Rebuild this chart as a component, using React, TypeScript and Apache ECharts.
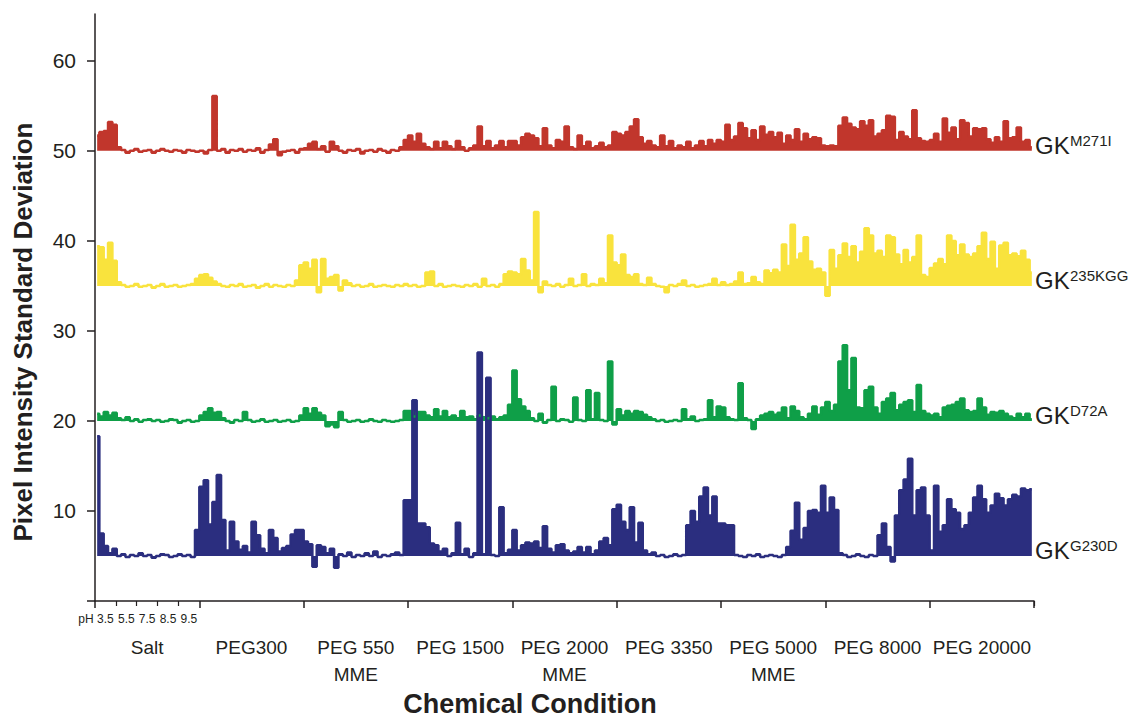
import { useEffect, useRef } from "react";
import * as echarts from "echarts";

// ---------- data ----------
const groupLabels = [
  "Salt",
  "PEG300",
  "PEG 550\nMME",
  "PEG 1500",
  "PEG 2000\nMME",
  "PEG 3350",
  "PEG 5000\nMME",
  "PEG 8000",
  "PEG 20000",
];
const phLabels = ["3.5", "5.5", "7.5", "8.5", "9.5"];
const conditionsPerGroup = 24;
const yTickValues = [0, 10, 20, 30, 40, 50, 60];
const yLabelValues = [10, 20, 30, 40, 50, 60];

const m271i = [
  51.7, 52.1, 52.2, 53.2, 52.9, 50.4, 50.1, 49.8, 50.0, 50.2, 49.9, 50.0, 50.1, 49.8, 50.0, 50.2, 50.0, 49.9, 50.1, 50.0, 49.8, 50.1, 50.0, 49.9,
  50.0, 49.7, 50.1, 56.1, 50.0, 50.2, 49.8, 50.1, 50.0, 50.2, 49.9, 50.1, 50.0, 50.3, 49.8, 50.1, 50.7, 51.3, 49.5, 49.9, 50.0, 50.1, 49.8, 50.2,
  50.3, 50.8, 51.0, 50.2, 50.5, 49.9, 51.0, 50.5, 50.0, 49.8, 50.1, 50.0, 50.2, 49.7, 50.0, 50.1, 49.9, 50.2, 50.0, 49.8, 50.1, 50.0, 50.4, 51.2,
  51.7, 51.0, 51.9, 50.8, 50.4, 50.2, 51.0, 50.3, 51.0, 50.5, 50.2, 51.1, 50.4, 50.0, 50.3, 50.6, 52.7, 50.5, 51.1, 50.3, 50.6, 51.1, 50.4, 51.1,
  51.1, 50.6, 51.5, 51.9, 51.7, 51.4, 50.5, 52.5, 50.6, 50.3, 51.2, 51.0, 52.7, 50.4, 50.2, 51.7, 50.5, 51.0, 50.3, 50.5, 50.9, 50.4, 50.6, 52.1,
  51.9, 51.7, 52.1, 52.7, 53.5, 51.5, 50.8, 51.1, 50.6, 50.4, 51.7, 50.5, 51.1, 50.3, 50.6, 50.4, 51.0, 50.3, 50.6, 51.1, 50.5, 51.2, 50.8, 51.2,
  51.0, 52.9, 51.2, 51.6, 53.1, 52.5, 51.4, 52.3, 51.2, 52.7, 51.8, 52.1, 51.5, 52.0, 50.8, 51.7, 51.2, 52.4, 51.0, 51.9, 51.3, 51.5, 51.4, 50.6,
  50.5, 50.6, 50.5, 52.8, 53.7, 53.0, 52.6, 52.4, 53.3, 52.8, 53.4, 51.6, 51.9, 52.3, 53.9, 53.8, 51.2, 52.1, 51.6, 51.3, 54.5, 51.4, 51.1, 51.0,
  51.2, 51.9, 51.0, 53.6, 52.0, 52.6, 51.3, 53.4, 53.1, 51.6, 52.5, 52.4, 52.5, 51.3, 50.9, 51.5, 51.0, 53.3, 51.4, 51.5, 52.6, 51.0, 51.2, 50.4,
];

const kgg235 = [
  39.4, 39.3, 37.9, 39.8, 37.8, 35.4, 35.1, 34.9, 35.0, 35.2, 34.9, 35.0, 35.1, 34.8, 35.0, 35.2, 34.9, 35.0, 35.1, 34.9, 35.0, 35.1, 35.2, 35.8,
  36.2, 36.3, 35.9, 35.5, 35.2, 35.0, 34.9, 35.1, 35.0, 35.2, 34.9, 35.0, 35.1, 34.8, 35.0, 35.2, 34.9, 35.1, 35.0, 34.9, 35.1, 35.0, 35.6, 37.3,
  37.6, 36.9, 37.9, 34.3, 38.0, 35.8, 36.0, 36.2, 34.5, 35.6, 35.3, 35.0, 35.1, 34.9, 35.0, 35.2, 34.9, 35.0, 35.1, 35.0, 34.9, 35.1, 35.0, 35.2,
  35.0, 35.1, 34.9, 35.0, 36.5, 36.6, 35.0, 35.2, 34.9, 35.0, 35.1, 35.0, 34.9, 35.1, 35.0, 35.2, 34.9, 35.8, 35.0, 35.1, 34.9, 35.2, 36.3, 36.6,
  36.5, 36.3, 38.0, 36.7, 35.6, 43.2, 34.3, 35.5, 35.1, 35.0, 35.2, 34.9, 35.1, 35.8, 35.0, 35.1, 36.3, 35.0, 35.2, 35.1, 35.8, 35.3, 40.6, 37.6,
  37.3, 38.5, 36.2, 36.0, 36.3, 35.2, 35.1, 35.9, 35.2, 35.0, 34.9, 34.3, 35.1, 35.0, 35.2, 35.6, 35.0, 35.1, 34.9, 35.0, 35.1, 35.2, 35.8, 35.1,
  35.4, 35.1, 35.2, 35.5, 36.5, 35.2, 35.3, 36.0, 35.4, 35.2, 36.7, 36.4, 36.8, 36.5, 39.6, 37.2, 41.8, 37.9, 38.6, 40.4, 37.7, 36.8, 36.9, 36.5,
  33.9, 39.0, 36.9, 38.4, 39.7, 38.2, 39.4, 37.6, 38.8, 41.4, 40.6, 38.6, 38.9, 38.2, 40.6, 40.4, 38.5, 37.4, 39.0, 37.6, 38.2, 40.6, 36.2, 36.0,
  37.0, 37.5, 38.0, 37.4, 40.6, 40.0, 38.4, 39.6, 38.5, 38.2, 38.6, 39.4, 40.9, 38.0, 39.9, 36.9, 39.5, 39.8, 38.4, 38.6, 38.3, 38.9, 37.9, 36.5,
];

const d72a = [
  20.8, 20.5, 21.0, 20.6, 20.9, 20.3, 20.1, 20.4, 20.0, 20.2, 19.9, 20.1, 20.2, 20.0, 20.1, 19.9, 20.0, 20.2, 20.1, 19.8, 20.0, 20.1, 19.9, 20.0,
  20.6, 21.0, 21.4, 20.9, 21.0, 20.3, 20.0, 19.8, 20.1, 20.0, 21.0, 20.1, 19.9, 20.0, 20.2, 19.9, 20.0, 20.1, 19.9, 20.0, 20.1, 19.9, 20.0, 20.6,
  21.4, 20.8, 21.4, 20.9, 20.6, 19.4, 19.6, 19.3, 21.0, 20.1, 19.9, 20.0, 20.1, 19.9, 20.0, 20.2, 20.0, 19.9, 20.1, 20.0, 19.9, 20.0, 20.1, 21.1,
  21.1, 20.5, 21.0, 21.0, 20.6, 20.4, 21.3, 20.5, 21.1, 20.4, 20.6, 20.3, 21.1, 20.4, 20.5, 20.2, 20.6, 20.4, 20.3, 20.5, 20.2, 20.4, 20.6, 21.8,
  25.6, 22.4, 21.6, 21.1, 20.3, 20.0, 20.8, 19.8, 20.1, 23.8, 20.0, 20.2, 20.1, 19.9, 22.6, 20.1, 20.0, 23.4, 20.2, 23.1, 20.1, 20.0, 26.6, 19.6,
  21.3, 20.6, 21.1, 20.8, 21.1, 21.0, 20.7, 20.4, 20.2, 20.0, 20.1, 19.9, 20.0, 20.1, 20.0, 21.3, 20.2, 20.5, 20.0, 20.1, 20.2, 22.3, 20.4, 21.6,
  21.5, 20.4, 20.2, 20.1, 24.2, 20.3, 20.1, 19.1, 20.2, 20.6, 20.8, 21.0, 20.7, 20.9, 21.5, 20.3, 21.6, 21.1, 20.4, 20.2, 20.8, 21.6, 20.7, 21.5,
  22.1, 21.1, 21.8, 26.6, 28.4, 23.4, 27.0, 21.5, 21.4, 23.4, 23.8, 21.5, 20.8, 22.1, 22.5, 23.1, 21.2, 21.8, 22.1, 22.3, 21.0, 24.0, 21.1, 20.8,
  20.6, 20.8, 20.4, 21.5, 21.7, 21.8, 22.1, 22.5, 21.2, 21.0, 21.1, 22.5, 21.5, 20.7, 21.0, 20.9, 21.1, 20.8, 20.5, 20.3, 20.8, 20.4, 20.8, 20.2,
];

const g230d = [
  18.3, 7.5, 6.1, 5.3, 5.8, 5.0, 5.2, 4.9, 5.1, 5.0, 5.3, 5.0, 5.1, 4.8, 5.0, 5.2, 5.1, 4.9, 5.0, 5.2, 5.0, 5.1, 4.9, 7.9,
  12.7, 13.4, 8.5, 11.0, 14.0, 9.0, 5.6, 8.8, 6.6, 5.7, 6.1, 5.4, 8.8, 7.3, 5.8, 5.3, 7.9, 7.0, 5.5, 5.9, 6.1, 7.4, 7.9, 7.9,
  6.6, 6.3, 3.8, 6.2, 6.0, 5.3, 5.8, 3.7, 5.2, 5.0, 5.4, 4.9, 5.1, 5.0, 5.3, 5.0, 5.5, 4.9, 5.1, 5.0, 5.2, 5.4, 5.1, 11.2,
  11.2, 22.3, 8.6, 8.6, 8.2, 6.4, 6.2, 5.5, 5.8, 5.0, 5.3, 8.7, 5.2, 5.8, 4.9, 5.3, 27.6, 5.2, 24.8, 5.1, 5.0, 10.4, 5.3, 5.7,
  7.9, 5.6, 6.2, 6.5, 6.4, 6.6, 5.9, 8.3, 5.8, 5.4, 6.2, 6.3, 5.6, 5.3, 5.5, 6.0, 5.4, 6.0, 5.2, 5.6, 6.6, 7.0, 6.2, 10.2,
  10.7, 8.8, 7.9, 10.4, 6.5, 8.7, 5.6, 5.2, 5.4, 5.0, 5.1, 4.9, 5.0, 5.2, 5.0, 5.1, 8.4, 10.0, 8.8, 11.6, 12.6, 9.5, 11.6, 8.6,
  8.6, 8.4, 8.4, 5.1, 5.0, 4.9, 5.1, 5.0, 5.2, 4.9, 5.0, 5.1, 5.0, 4.9, 5.1, 6.0, 7.8, 10.9, 6.8, 8.1, 10.0, 10.1, 9.8, 12.8,
  9.8, 11.5, 10.1, 5.3, 5.1, 4.9, 5.0, 5.2, 5.0, 4.9, 5.1, 5.0, 7.3, 8.6, 6.0, 4.4, 9.5, 12.3, 13.5, 15.8, 9.5, 12.3, 12.6, 9.5,
  5.6, 12.8, 7.7, 8.4, 11.3, 10.2, 9.8, 8.0, 8.4, 9.8, 11.5, 12.8, 11.3, 9.8, 10.6, 11.9, 11.4, 10.6, 11.3, 11.8, 11.6, 12.5, 12.3, 12.4,
];

const seriesDefs = [
  { name: "GK M271I", sup: "M271I", values: m271i, baseline: 50, color: "#C1362C" },
  { name: "GK 235KGG", sup: "235KGG", values: kgg235, baseline: 35, color: "#F9E33D" },
  { name: "GK D72A", sup: "D72A", values: d72a, baseline: 20, color: "#0F9F48" },
  { name: "GK G230D", sup: "G230D", values: g230d, baseline: 5, color: "#2B2E7F" },
];

const AXIS_COLOR = "#231F20";
const TEXT_COLOR = "#231F20";
const FONT = '"Liberation Sans", Arial, sans-serif';

export default function App() {
  const ref = useRef<HTMLDivElement>(null);

  useEffect(() => {
    if (!ref.current) return;
    const chart = echarts.init(ref.current, null, { renderer: "svg" });
    const total = groupLabels.length * conditionsPerGroup;
    const phData = [...phLabels];
    while (phData.length < groupLabels.length * phLabels.length) phData.push("");

    chart.setOption({
      animation: false,
      backgroundColor: "#ffffff",
      grid: { left: 95, right: 99, top: 14, bottom: 120, containLabel: false },
      xAxis: [
        {
          type: "value",
          min: 0,
          max: total,
          interval: conditionsPerGroup,
          axisLine: { show: true, onZero: false, lineStyle: { color: AXIS_COLOR, width: 1.5 } },
          axisTick: { show: true, length: 7, lineStyle: { color: AXIS_COLOR, width: 1.5 } },
          axisLabel: { show: false },
          splitLine: { show: false },
        },
        {
          type: "category",
          data: groupLabels,
          position: "bottom",
          boundaryGap: true,
          axisLine: { show: false },
          axisTick: { show: false },
          axisLabel: {
            interval: 0,
            margin: 33,
            fontSize: 19,
            lineHeight: 27,
            fontFamily: FONT,
            color: TEXT_COLOR,
            align: "center",
          },
          splitLine: { show: false },
        },
        {
          type: "category",
          data: phData,
          position: "bottom",
          boundaryGap: true,
          axisLine: { show: false },
          axisTick: {
            show: true,
            length: 5,
            interval: (idx: number) => idx >= 1 && idx <= 4,
            lineStyle: { color: AXIS_COLOR, width: 1.2 },
          },
          axisLabel: {
            interval: 0,
            margin: 12,
            fontSize: 12,
            fontFamily: FONT,
            color: TEXT_COLOR,
          },
          splitLine: { show: false },
        },
      ],
      yAxis: {
        type: "value",
        min: 0,
        max: 65.2,
        interval: 10,
        axisLine: { show: true, onZero: false, lineStyle: { color: AXIS_COLOR, width: 1.5 } },
        axisTick: {
          show: true,
          length: 8,
          customValues: yTickValues,
          lineStyle: { color: AXIS_COLOR, width: 1.5 },
        },
        axisLabel: {
          customValues: yLabelValues,
          margin: 19,
          fontSize: 21,
          fontFamily: FONT,
          color: TEXT_COLOR,
        },
        splitLine: { show: false },
      },
      series: seriesDefs.map((s) => ({
        name: s.name,
        type: "line",
        xAxisIndex: 0,
        yAxisIndex: 0,
        step: "middle",
        symbol: "none",
        silent: true,
        data: s.values.map((v, i) => [i + 0.5, v]),
        lineStyle: { color: s.color, width: 2.5 },
        areaStyle: { color: s.color, opacity: 1, origin: s.baseline },
      })),
    });

    const labelGraphics: any[] = [];
    seriesDefs.forEach((s) => {
      const py = chart.convertToPixel({ yAxisIndex: 0 }, s.baseline) as number;
      const y = py - 5;
      labelGraphics.push({
        type: "text",
        x: 1035,
        y,
        silent: true,
        style: {
          text: "GK",
          fontSize: 24,
          fontFamily: FONT,
          fill: TEXT_COLOR,
          align: "left",
          verticalAlign: "middle",
        },
      });
      labelGraphics.push({
        type: "text",
        x: 1070,
        y: y - 5,
        silent: true,
        style: {
          text: s.sup,
          fontSize: 15,
          fontFamily: FONT,
          fill: TEXT_COLOR,
          align: "left",
          verticalAlign: "middle",
        },
      });
    });

    chart.setOption({
      graphic: [
        ...labelGraphics,
        {
          type: "text",
          x: 86,
          y: 619,
          silent: true,
          style: {
            text: "pH",
            fontSize: 12,
            fontFamily: FONT,
            fill: TEXT_COLOR,
            align: "center",
            verticalAlign: "middle",
          },
        },
        {
          type: "text",
          x: 530,
          y: 704,
          silent: true,
          style: {
            text: "Chemical Condition",
            fontSize: 27,
            fontWeight: "bold",
            fontFamily: FONT,
            fill: TEXT_COLOR,
            align: "center",
            verticalAlign: "middle",
          },
        },
        {
          type: "text",
          x: 23,
          y: 332,
          rotation: Math.PI / 2,
          silent: true,
          style: {
            text: "Pixel Intensity Standard Deviation",
            fontSize: 26,
            fontWeight: "bold",
            fontFamily: FONT,
            fill: TEXT_COLOR,
            align: "center",
            verticalAlign: "middle",
          },
        },
      ],
    });

    return () => chart.dispose();
  }, []);

  return (
    <div
      ref={ref}
      style={{ position: "absolute", left: 0, top: 0, width: 1133, height: 721 }}
    />
  );
}
